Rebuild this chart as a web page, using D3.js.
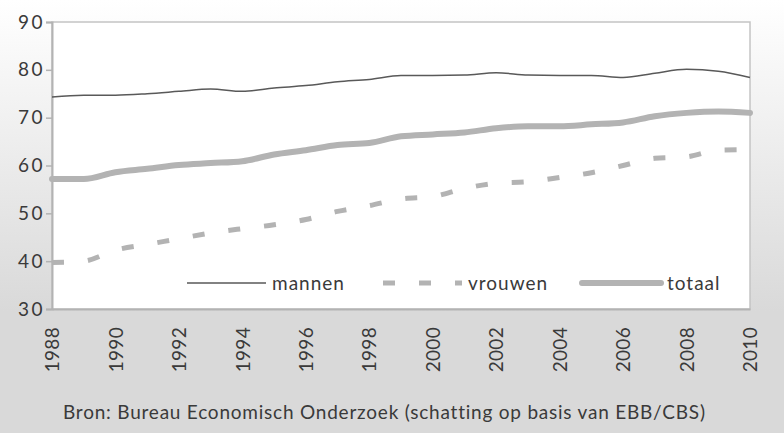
<!DOCTYPE html>
<html>
<head>
<meta charset="utf-8">
<script src="https://cdn.jsdelivr.net/npm/d3@7"></script>
<style>
  html, body { margin: 0; padding: 0; background: #fff; }
  svg { display: block; font-family: Lato, "Open Sans", sans-serif; }
</style>
</head>
<body>
<div id="stage"></div>
<script>
const years = d3.range(1988, 2011);
const mannen = [74.3, 74.7, 74.7, 75.0, 75.5, 76.0, 75.5, 76.2, 76.7, 77.5, 78.0, 78.8, 78.8, 78.9,
  79.4, 78.9, 78.8, 78.8, 78.4, 79.3, 80.1, 79.7, 78.4];
const vrouwen = [39.7, 40.0, 42.3, 43.5, 44.7, 45.9, 46.8, 47.6, 48.7, 50.4, 51.6, 53.0, 53.5, 55.2,
  56.3, 56.6, 57.5, 58.5, 60.0, 61.5, 61.8, 63.2, 63.3];
const totaal = [57.2, 57.2, 58.6, 59.3, 60.1, 60.5, 60.9, 62.3, 63.2, 64.3, 64.7, 66.1, 66.5, 66.9,
  67.8, 68.2, 68.2, 68.6, 69.0, 70.3, 71.0, 71.3, 71.0];
const yTicks = [30, 40, 50, 60, 70, 80, 90];
const xTicks = d3.range(1988, 2011, 2);
const seriesNames = ['mannen', 'vrouwen', 'totaal'];
const source = 'Bron: Bureau Economisch Onderzoek (schatting op basis van EBB/CBS)';

const width = 784, height = 433;
const plot = {left: 52, right: 750, top: 22, bottom: 309};
const textColor = '#3a3a3a';

const svg = d3.select('#stage').append('svg')
  .attr('width', width)
  .attr('height', height);

// background gradient
const defs = svg.append('defs');
const grad = defs.append('linearGradient')
  .attr('id', 'bg')
  .attr('x1', 0).attr('y1', 0).attr('x2', 0).attr('y2', 1);
grad.append('stop').attr('offset', 0).attr('stop-color', '#ffffff');
grad.append('stop').attr('offset', 0.72).attr('stop-color', '#d9d9d9');
grad.append('stop').attr('offset', 1).attr('stop-color', '#d9d9d9');

svg.append('rect')
  .attr('width', width).attr('height', height)
  .attr('fill', 'url(#bg)');

const x = d3.scaleLinear()
  .domain([1988, 2010])
  .range([plot.left, plot.right]);

const y = d3.scaleLinear()
  .domain([30, 90])
  .range([plot.bottom, plot.top]);

// plot area
svg.append('rect')
  .attr('x', plot.left).attr('y', plot.top)
  .attr('width', plot.right - plot.left)
  .attr('height', plot.bottom - plot.top)
  .attr('fill', '#fff')
  .attr('stroke', '#c4c4c4')
  .attr('stroke-width', 1.5);

// y axis
const yAxis = svg.append('g')
  .attr('transform', `translate(${plot.left},0)`)
  .call(d3.axisLeft(y).tickValues(yTicks).tickSize(6).tickPadding(4));
yAxis.select('.domain').attr('stroke', '#b3b3b3').attr('stroke-width', 2);
yAxis.selectAll('.tick line').attr('stroke', '#b3b3b3').attr('stroke-width', 1.5);
yAxis.selectAll('.tick text')
  .attr('font-size', 19)
  .attr('fill', textColor)
  .attr('font-family', 'Lato, sans-serif')
  .attr('letter-spacing', 2.5)
  .attr('x', -7);

// x axis
const xAxis = svg.append('g')
  .attr('transform', `translate(0,${plot.bottom})`)
  .call(d3.axisBottom(x).tickValues(xTicks).tickFormat(d3.format('d')).tickSize(0));
xAxis.select('.domain').attr('stroke', '#b3b3b3').attr('stroke-width', 2);
xAxis.selectAll('.tick text')
  .attr('font-size', 19)
  .attr('fill', textColor)
  .attr('font-family', 'Lato, sans-serif')
  .attr('letter-spacing', 0.3)
  .attr('text-anchor', 'end')
  .attr('transform', 'rotate(-90)')
  .attr('x', -18)
  .attr('y', 0)
  .attr('dy', '0.35em');

const styles = {
  mannen: {stroke: '#595959', width: 1.5, dash: null, cap: 'butt'},
  vrouwen: {stroke: '#b3b3b3', width: 5, dash: '12,24', cap: 'butt'},
  totaal: {stroke: '#b3b3b3', width: 6, dash: null, cap: 'round'},
};
const data = {mannen, vrouwen, totaal};

const line = d3.line()
  .x((d, i) => x(years[i]))
  .y((d) => y(d))
  .curve(d3.curveMonotoneX);

svg.selectAll('path.series')
  .data(['totaal', 'vrouwen', 'mannen'])
  .enter()
  .append('path')
  .attr('class', 'series')
  .attr('d', (k) => line(data[k]))
  .attr('fill', 'none')
  .attr('stroke', (k) => styles[k].stroke)
  .attr('stroke-width', (k) => styles[k].width)
  .attr('stroke-dasharray', (k) => styles[k].dash)
  .attr('stroke-linecap', (k) => styles[k].cap)
  .attr('stroke-linejoin', 'round');

// legend
const legendX = [187, 383, 582];
const legendY = 283;
const legend = svg.selectAll('g.legend')
  .data(seriesNames)
  .enter()
  .append('g')
  .attr('class', 'legend')
  .attr('transform', (d, i) => `translate(${legendX[i]},${legendY})`);

legend.append('line')
  .attr('x1', 0).attr('x2', 79)
  .attr('stroke', (k) => styles[k].stroke)
  .attr('stroke-width', (k) => styles[k].width)
  .attr('stroke-dasharray', (k) => styles[k].dash)
  .attr('stroke-linecap', (k) => styles[k].cap);

legend.append('text')
  .attr('x', 85)
  .attr('dy', '0.35em')
  .attr('font-size', 19)
  .attr('letter-spacing', 1)
  .attr('fill', textColor)
  .text((d) => d);

svg.append('text')
  .attr('x', 63)
  .attr('y', 419)
  .attr('font-size', 19)
  .attr('letter-spacing', 0.78)
  .attr('fill', textColor)
  .text(source);
</script>
</body>
</html>
